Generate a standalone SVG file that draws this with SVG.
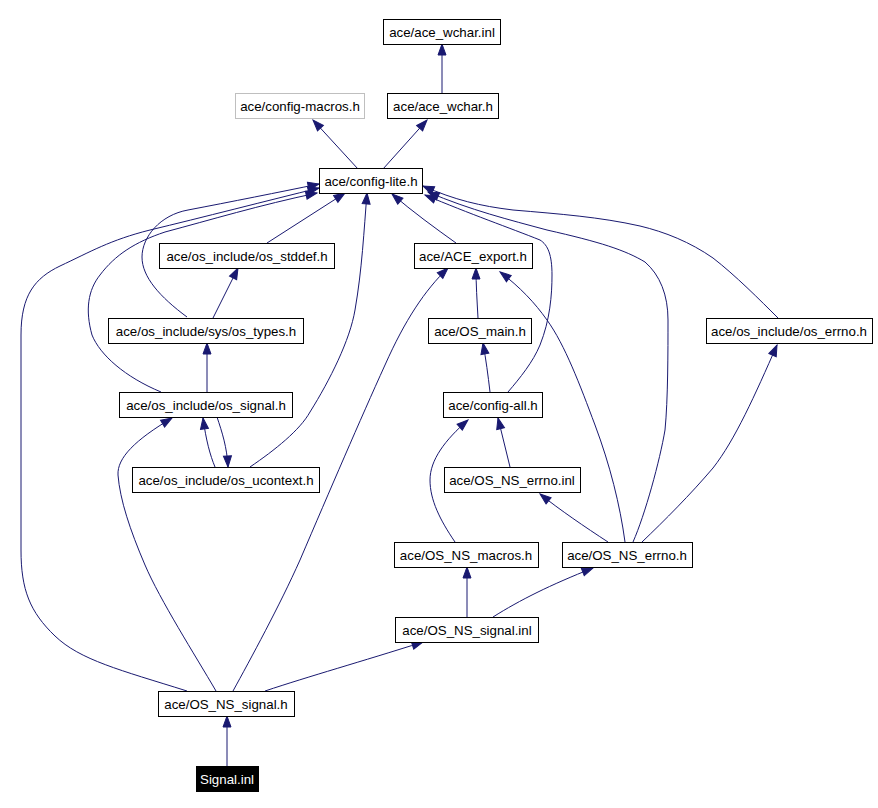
<svg xmlns="http://www.w3.org/2000/svg" width="878" height="808" viewBox="0 0 878 808">
<style>
.n rect{fill:#fff;stroke:#000;stroke-width:1}
.n text{font-family:"Liberation Sans",Arial,sans-serif;font-size:13.3px;text-anchor:middle;fill:#000}
#n_macros rect{stroke:#bfbfbf}
#n_signal_inl rect{fill:#000;stroke:#000}
#n_signal_inl text{fill:#fff}
.e path{fill:none;stroke:#191970;stroke-width:1;marker-end:url(#ah)}
</style>
<defs>
<marker id="ah" markerUnits="userSpaceOnUse" markerWidth="14" markerHeight="10" refX="12" refY="5" orient="auto" viewBox="0 0 14 10" overflow="visible">
<path d="M1,1 L12,5 L1,9 z" fill="#191970" stroke="#191970" stroke-width="1"/>
</marker>
</defs>
<rect width="878" height="808" fill="#fff"/>
<g class="e" id="edges">
<path d="M442,93 L442,44"/>
<path d="M358,169 L313,120"/>
<path d="M383,169 L427,120"/>
<path d="M267,243 L345,193"/>
<path d="M213,318 L238,268"/>
<path d="M187,317 C160,297 142,277 142,257 C142,237 160,215 188,210 C230,202 280,192 319,184"/>
<path d="M187,691 C120,670 80,660 55,636 C30,612 21,590 21,550 L21,335 C21,295 35,278 60,266 C90,252 110,240 150,230 C200,218 270,200 319,188"/>
<path d="M161,392 C125,377 100,355 92,335 C85,310 88,290 100,275 C115,255 135,242 165,232 C210,220 260,205 317,193"/>
<path d="M250,467 C275,450 300,430 310,412 C330,380 350,340 355,310 C362,270 364,230 367,193"/>
<path d="M233,691 C250,660 280,605 300,560 C330,490 360,420 385,365 C405,320 425,290 448,268"/>
<path d="M216,691 C195,655 160,600 145,565 C130,530 120,500 118,475 C117,458 135,440 172,418"/>
<path d="M215,467 C210,455 206,440 203,418"/>
<path d="M217,417 C222,432 227,447 228,467"/>
<path d="M207,392 L207,343"/>
<path d="M227,767 L227,716"/>
<path d="M265,691 C310,676 360,662 423,642"/>
<path d="M456,243 C435,228 413,212 392,194"/>
<path d="M478,318 C477,300 476,285 476,268"/>
<path d="M490,392 C488,375 486,360 483,343"/>
<path d="M508,392 C520,378 533,362 540,345 C550,320 552,295 552,275 C552,255 548,245 540,240 C510,228 470,214 425,195"/>
<path d="M625,542 C620,505 610,465 595,425 C580,385 565,345 547,320 C535,303 520,287 500,272"/>
<path d="M633,542 C645,515 660,460 665,430 C668,400 668,350 668,320 C668,295 660,275 645,262 C625,250 600,242 547,230 C510,220 470,210 428,192"/>
<path d="M778,318 C760,300 735,275 713,258 C690,242 665,232 640,226 C600,217 560,214 513,210 C480,206 455,200 423,186"/>
<path d="M642,542 C665,520 690,495 713,468 C735,440 755,395 777,345"/>
<path d="M510,467 L498,418"/>
<path d="M455,542 C440,520 430,500 430,480 C430,460 445,440 468,420"/>
<path d="M608,542 C585,527 560,510 540,494"/>
<path d="M467,617 L467,567"/>
<path d="M493,617 C520,600 550,585 593,568"/>
</g>
<g class="n" id="n_wchar_inl"><rect x="383.5" y="19.5" width="117" height="25"/><text x="442" y="36.5">ace/ace_wchar.inl</text></g>
<g class="n" id="n_macros"><rect x="235.5" y="93.5" width="129" height="25"/><text x="300" y="110.5">ace/config-macros.h</text></g>
<g class="n" id="n_wchar_h"><rect x="387.5" y="93.5" width="111" height="25"/><text x="443" y="110.5">ace/ace_wchar.h</text></g>
<g class="n" id="n_config_lite"><rect x="319.5" y="168.5" width="103" height="25"/><text x="371" y="185.5">ace/config-lite.h</text></g>
<g class="n" id="n_os_stddef"><rect x="159.5" y="243.5" width="175" height="25"/><text x="247" y="260.5">ace/os_include/os_stddef.h</text></g>
<g class="n" id="n_ace_export"><rect x="414.5" y="243.5" width="118" height="25"/><text x="473" y="260.5">ace/ACE_export.h</text></g>
<g class="n" id="n_os_types"><rect x="108.5" y="318.5" width="195" height="25"/><text x="206" y="335.5">ace/os_include/sys/os_types.h</text></g>
<g class="n" id="n_os_main"><rect x="428.5" y="318.5" width="103" height="25"/><text x="480" y="335.5">ace/OS_main.h</text></g>
<g class="n" id="n_os_errno"><rect x="706.5" y="318.5" width="166" height="25"/><text x="789" y="335.5">ace/os_include/os_errno.h</text></g>
<g class="n" id="n_os_signal"><rect x="119.5" y="392.5" width="173" height="25"/><text x="206" y="409.5">ace/os_include/os_signal.h</text></g>
<g class="n" id="n_config_all"><rect x="443.5" y="392.5" width="99" height="25"/><text x="493" y="409.5">ace/config-all.h</text></g>
<g class="n" id="n_os_ucontext"><rect x="132.5" y="467.5" width="187" height="25"/><text x="226" y="484.5">ace/os_include/os_ucontext.h</text></g>
<g class="n" id="n_ns_errno_inl"><rect x="444.5" y="467.5" width="136" height="25"/><text x="512" y="484.5">ace/OS_NS_errno.inl</text></g>
<g class="n" id="n_ns_macros"><rect x="394.5" y="542.5" width="144" height="25"/><text x="466" y="559.5">ace/OS_NS_macros.h</text></g>
<g class="n" id="n_ns_errno_h"><rect x="562.5" y="542.5" width="130" height="25"/><text x="627" y="559.5">ace/OS_NS_errno.h</text></g>
<g class="n" id="n_ns_signal_inl"><rect x="395.5" y="617.5" width="143" height="25"/><text x="467" y="634.5">ace/OS_NS_signal.inl</text></g>
<g class="n" id="n_ns_signal_h"><rect x="158.5" y="691.5" width="136" height="25"/><text x="226" y="708.5">ace/OS_NS_signal.h</text></g>
<g class="n" id="n_signal_inl"><rect x="196.5" y="766.5" width="62" height="25"/><text x="227" y="783.5">Signal.inl</text></g>
</svg>
